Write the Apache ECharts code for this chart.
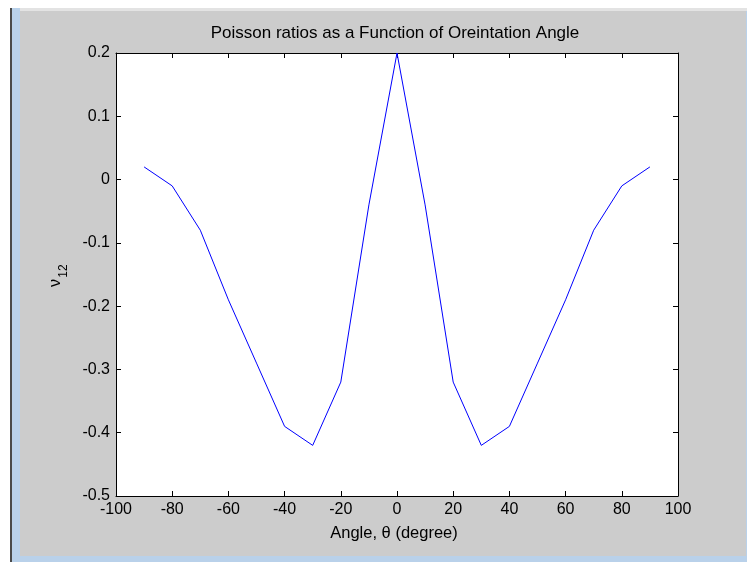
<!DOCTYPE html>
<html>
<head>
<meta charset="utf-8">
<script src="https://cdn.jsdelivr.net/npm/echarts@6/dist/echarts.min.js"></script>
<style>
html,body{margin:0;padding:0;background:#fff;}
#chart{width:747px;height:562px;}
</style>
</head>
<body>
<div id="chart"></div>
<script>
var angles = [-90, -80, -70, -60, -50, -40, -30, -20, -10, 0, 10, 20, 30, 40, 50, 60, 70, 80, 90];
var nu12 = [0.02, -0.01, -0.08, -0.19, -0.29, -0.39, -0.42, -0.32, -0.04, 0.2, -0.04, -0.32, -0.42, -0.39, -0.29, -0.19, -0.08, -0.01, 0.02];
var titleText = 'Poisson ratios as a Function of Oreintation Angle';
var xLabelText = 'Angle, \u03b8 (degree)';

var chart = echarts.init(document.getElementById('chart'), null, {renderer: 'canvas'});
var font = '"Liberation Sans", Arial, sans-serif';
var tickStyle = {show: true, inside: true, length: 5, lineStyle: {color: '#000', width: 1}};

function yFmt(v) {
  if (Math.abs(v) < 1e-9) return '0';
  return (Math.round(v * 10) / 10).toFixed(1);
}

chart.setOption({
  animation: false,
  backgroundColor: '#ffffff',
  grid: {left: 116, right: 69, top: 53, bottom: 66, show: true, backgroundColor: '#ffffff', borderWidth: 0},
  graphic: [
    {type: 'rect', z: -10, shape: {x: 20, y: 11, width: 727, height: 545}, style: {fill: '#cccccc'}},
    {type: 'rect', z: -10, shape: {x: 12, y: 8, width: 735, height: 3}, style: {fill: '#e3e3e3'}},
    {type: 'rect', z: -10, shape: {x: 12, y: 8, width: 8, height: 554}, style: {fill: '#b9d1ea'}},
    {type: 'rect', z: -10, shape: {x: 12, y: 556, width: 735, height: 6}, style: {fill: '#b9d1ea'}},
    {type: 'rect', z: -10, shape: {x: 746, y: 11, width: 1, height: 545}, style: {fill: '#b9d1ea'}},
    {type: 'rect', z: -10, shape: {x: 10, y: 8, width: 2, height: 554}, style: {fill: '#4a4a4a'}},
    {type: 'text', z: 10,
      style: {text: titleText, fill: '#000', font: '17px ' + font, textAlign: 'center', textVerticalAlign: 'middle'},
      x: 395, y: 33},
    {type: 'text', z: 10,
      style: {text: xLabelText, fill: '#000', font: '16.5px ' + font, textAlign: 'center', textVerticalAlign: 'middle'},
      x: 394, y: 533},
    {type: 'text', z: 10, rotation: Math.PI / 2,
      style: {text: '\u03bd', fill: '#000', font: '16px ' + font, textAlign: 'center', textVerticalAlign: 'middle'},
      x: 56, y: 283},
    {type: 'text', z: 10, rotation: Math.PI / 2,
      style: {text: '12', fill: '#000', font: '12px ' + font, textAlign: 'center', textVerticalAlign: 'middle'},
      x: 64, y: 271}
  ],
  xAxis: [
    {type: 'value', min: -100, max: 100, interval: 20, position: 'bottom',
      axisLine: {show: true, onZero: false, lineStyle: {color: '#000', width: 1}},
      axisTick: tickStyle, splitLine: {show: false},
      axisLabel: {color: '#000', fontSize: 16, fontFamily: font, margin: 6}},
    {type: 'value', min: -100, max: 100, interval: 20, position: 'top',
      axisLine: {show: true, onZero: false, lineStyle: {color: '#000', width: 1}},
      axisTick: tickStyle, splitLine: {show: false}, axisLabel: {show: false}}
  ],
  yAxis: [
    {type: 'value', min: -0.5, max: 0.2, interval: 0.1, position: 'left',
      axisLine: {show: true, onZero: false, lineStyle: {color: '#000', width: 1}},
      axisTick: tickStyle, splitLine: {show: false},
      axisLabel: {color: '#000', fontSize: 16, fontFamily: font, margin: 6, formatter: yFmt}},
    {type: 'value', min: -0.5, max: 0.2, interval: 0.1, position: 'right',
      axisLine: {show: true, onZero: false, lineStyle: {color: '#000', width: 1}},
      axisTick: tickStyle, splitLine: {show: false}, axisLabel: {show: false}}
  ],
  series: [{
    type: 'line',
    data: angles.map(function (a, i) { return [a, nu12[i]]; }),
    showSymbol: false,
    symbol: 'none',
    lineStyle: {color: '#0000ff', width: 1},
    itemStyle: {color: '#0000ff'},
    clip: false
  }]
});
</script>
</body>
</html>
